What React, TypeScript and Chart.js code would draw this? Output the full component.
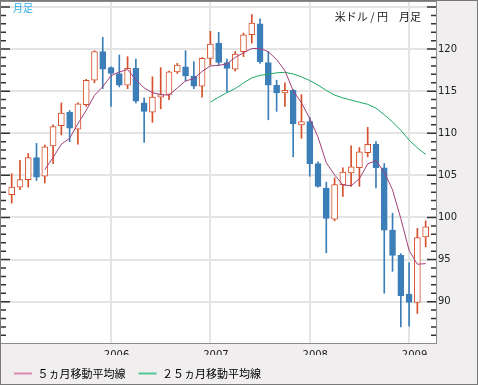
import React, { useEffect, useRef } from 'react';
import { Chart, registerables } from 'chart.js';

Chart.register(...registerables);

// Monthly USD/JPY candles, Jan 2005 (index 0) .. Mar 2009 (index 50)
const opens = [
  102.7, 103.6, 104.5, 107.1, 104.9, 108.5, 110.9, 112.5, 110.5, 113.4, 116.3, 119.7,
  117.8, 117.1, 115.7, 117.7, 113.6, 112.5, 114.3, 114.6, 117.3, 117.9, 116.8, 115.6,
  118.9, 120.7, 118.4, 117.6, 119.7, 121.7, 123.0, 118.4, 115.7, 114.8, 115.1, 111.0,
  111.4, 106.4, 103.5, 99.8, 103.9, 105.3, 105.9, 107.7, 108.7, 105.9, 98.5, 95.5,
  90.9, 89.9, 97.7,
];
const highs = [
  105.2, 106.8, 107.6, 108.8, 108.6, 111.0, 113.6, 112.7, 113.6, 116.4, 119.8, 121.4,
  117.9, 119.3, 119.1, 118.8, 114.2, 116.7, 117.8, 117.4, 118.3, 119.8, 118.5, 119.0,
  122.1, 122.0, 118.8, 119.7, 121.9, 124.1, 123.6, 119.7, 116.3, 116.0, 115.2, 114.6,
  111.9, 106.6, 104.2, 104.7, 105.9, 108.5, 108.3, 110.7, 109.0, 106.4, 100.5, 95.7,
  94.6, 98.7, 99.6,
];
const lows = [
  101.7, 103.3, 103.6, 104.4, 104.1, 106.4, 109.8, 109.0, 108.7, 113.2, 116.0, 115.3,
  113.2, 115.5, 115.3, 113.6, 108.9, 111.3, 112.9, 114.0, 117.1, 116.2, 115.3, 114.3,
  118.1, 118.1, 114.9, 117.4, 119.1, 120.7, 118.3, 111.6, 112.6, 113.2, 107.2, 109.4,
  104.9, 103.6, 95.8, 99.6, 102.5, 103.7, 103.7, 107.2, 103.5, 91.0, 93.6, 87.0,
  87.1, 88.6, 96.5,
];
const closes = [
  103.6, 104.5, 107.1, 104.8, 108.4, 110.8, 112.4, 110.6, 113.5, 116.3, 119.7, 117.6,
  117.1, 115.7, 117.7, 113.8, 112.6, 114.3, 114.6, 117.3, 118.1, 116.8, 115.6, 118.9,
  120.6, 118.4, 117.7, 119.4, 121.7, 123.1, 118.5, 115.7, 114.8, 115.1, 111.1, 111.4,
  106.4, 103.7, 99.9, 103.9, 105.4, 106.0, 107.8, 108.7, 105.9, 98.5, 95.5, 90.7,
  89.9, 97.6, 98.9,
];

// 5-month moving average, from index 4
const ma5Start = 4;
const ma5 = [
  105.68, 107.12, 108.70, 109.40, 111.14, 112.72, 114.50, 115.54, 116.84, 117.28,
  117.56, 116.38, 115.38, 114.82, 114.60, 114.52, 115.38, 116.22, 116.48, 117.34,
  118.00, 118.06, 118.24, 119.00, 119.56, 120.06, 120.08, 119.68, 118.76, 117.44,
  115.04, 113.62, 111.76, 109.54, 106.50, 105.06, 103.86, 103.78, 104.60, 106.36,
  106.76, 105.38, 103.28, 99.86, 96.10, 94.44, 94.52,
];
// 25-month moving average, from index 24
const ma25Start = 24;
const ma25 = [
  113.70, 114.29, 114.82, 115.31, 115.98, 116.57, 116.88, 117.01, 117.18, 117.24,
  117.04, 116.70, 116.26, 115.72, 115.09, 114.54, 114.20, 113.94, 113.68, 113.44,
  112.98, 112.20, 111.35, 110.35, 109.19, 108.27, 107.49,
];

const yearTicks = [12, 24, 36, 48];
const yearLabels = ['2006', '2007', '2008', '2009'];
const yGridValues = [90, 95, 100, 105, 110, 115, 120, 125];
const yLabelValues = [90, 95, 100, 105, 110, 115, 120];

const seriesNames = ['５ヵ月移動平均線', '２５ヵ月移動平均線'];
const cornerLabel = '月足';
const titleLabel = '米ドル / 円　月足';

const UP = '#d6502c';
const DOWN = '#3c7eb8';
const MA5_COLOR = '#a4407a';
const MA25_COLOR = '#1ea863';
const MA5_LEGEND = '#d888b4';
const MA25_LEGEND = '#52c896';

const decorPlugin = {
  id: 'decor',
  beforeDraw(chart: any) {
    const { ctx, chartArea: a, width, height } = chart;
    ctx.save();
    ctx.fillStyle = '#f0eeee';
    ctx.fillRect(0, 0, width, height);
    ctx.fillStyle = '#ffffff';
    ctx.fillRect(a.left, a.top, a.right - a.left, a.bottom - a.top);
    ctx.restore();
  },
  afterDraw(chart: any) {
    const { ctx, chartArea: a, width, height } = chart;
    const ys = chart.scales.y;
    ctx.save();
    ctx.strokeStyle = '#333333';
    ctx.lineWidth = 1.5;
    for (let v = Math.ceil(ys.min); v <= Math.floor(ys.max); v++) {
      const y = ys.getPixelForValue(v);
      const major = v % 5 === 0;
      ctx.beginPath();
      ctx.moveTo(a.left, y);
      ctx.lineTo(a.left + (major ? 9 : 5), y);
      ctx.moveTo(a.right, y);
      ctx.lineTo(a.right - (major ? 9 : 5), y);
      ctx.stroke();
    }
    ctx.lineWidth = 1;
    ctx.strokeStyle = '#8c8c8c';
    ctx.strokeRect(a.left - 0.5, a.top - 0.5, a.right - a.left + 1, a.bottom - a.top + 1);
    ctx.strokeStyle = '#787878';
    ctx.strokeRect(0.5, 0.5, width - 1, height - 1);

    ctx.textBaseline = 'middle';
    ctx.font = '10px "Noto Sans CJK JP", sans-serif';
    ctx.fillStyle = '#2aaee6';
    ctx.textAlign = 'left';
    ctx.fillText(cornerLabel, a.left + 12, 8.5);
    ctx.font = '11px "Noto Sans CJK JP", sans-serif';
    ctx.fillStyle = '#222222';
    ctx.textAlign = 'right';
    ctx.fillText(titleLabel, 421, 17);
    ctx.restore();
  },
};

export default function App() {
  const ref = useRef<HTMLCanvasElement>(null);

  useEffect(() => {
    document.body.style.margin = '0';
    const ups = closes.map((c, i) => c >= opens[i]);
    const bodyData = opens.map((o, i) => ({ x: i, y: [o, closes[i]] }));
    const wickData = lows.map((l, i) => ({ x: i, y: [l, highs[i]] }));
    const ma5Data = ma5.map((v, k) => ({ x: k + ma5Start, y: v }));
    const ma25Data = ma25.map((v, k) => ({ x: k + ma25Start, y: v }));
    const tickFont = { family: '"DejaVu Sans", sans-serif', size: 10 };

    const chart = new Chart(ref.current as HTMLCanvasElement, {
      type: 'bar',
      data: {
        datasets: [
          {
            type: 'line',
            label: seriesNames[0],
            data: ma5Data,
            borderColor: MA5_COLOR,
            borderWidth: 1,
            pointRadius: 0,
            tension: 0,
            order: 0,
          } as any,
          {
            type: 'line',
            label: seriesNames[1],
            data: ma25Data,
            borderColor: MA25_COLOR,
            borderWidth: 1,
            pointRadius: 0,
            tension: 0,
            order: 0,
          } as any,
          {
            type: 'bar',
            label: 'body',
            data: bodyData,
            backgroundColor: ups.map((u) => (u ? '#ffffff' : DOWN)),
            borderColor: ups.map((u) => (u ? UP : DOWN)),
            borderWidth: 1,
            borderSkipped: false,
            barThickness: 6,
            grouped: false,
            order: 1,
          } as any,
          {
            type: 'bar',
            label: 'wick',
            data: wickData,
            backgroundColor: ups.map((u) => (u ? UP : DOWN)),
            borderWidth: 0,
            barThickness: 1,
            grouped: false,
            order: 2,
          } as any,
        ],
      },
      options: {
        responsive: false,
        animation: false,
        devicePixelRatio: 1,
        events: [],
        layout: { padding: { left: 1, top: 2, right: 0, bottom: 0 } },
        scales: {
          x: {
            type: 'linear',
            min: -1.29,
            max: 51.25,
            offset: false,
            grid: { color: '#e4e4e4', lineWidth: 2, drawTicks: false, offset: false },
            border: { display: false },
            ticks: {
              padding: 6,
              labelOffset: 5.5,
              autoSkip: false,
              maxRotation: 0,
              font: tickFont,
              color: '#222222',
              callback: (v: any) => {
                const k = yearTicks.indexOf(Number(v));
                return k >= 0 ? yearLabels[k] : '';
              },
            },
            afterBuildTicks: (s: any) => {
              s.ticks = yearTicks.map((v) => ({ value: v }));
            },
            afterFit: (s: any) => {
              s.height = 12;
              s.paddingLeft = 0;
              s.paddingRight = 0;
            },
          } as any,
          y: {
            type: 'linear',
            position: 'right',
            min: 85.09,
            max: 125.59,
            grid: { color: '#e4e4e4', lineWidth: 2, drawTicks: false },
            border: { display: false },
            ticks: {
              padding: 2,
              font: tickFont,
              color: '#222222',
              callback: (v: any) => (yLabelValues.includes(Number(v)) ? String(v) : ''),
            },
            afterBuildTicks: (s: any) => {
              s.ticks = yGridValues.map((v) => ({ value: v }));
            },
            afterFit: (s: any) => {
              s.width = 42;
              s.paddingTop = 0;
              s.paddingBottom = 0;
            },
          } as any,
        },
        plugins: {
          tooltip: { enabled: false },
          legend: {
            position: 'bottom',
            align: 'start',
            maxHeight: 30,
            labels: {
              boxWidth: 18,
              boxHeight: 2,
              padding: 13,
              color: '#222222',
              font: { family: '"Noto Sans CJK JP", sans-serif', size: 11 },
              generateLabels: () => [
                { text: seriesNames[0], fillStyle: MA5_LEGEND, strokeStyle: MA5_LEGEND, lineWidth: 0, hidden: false, datasetIndex: 0 },
                { text: seriesNames[1], fillStyle: MA25_LEGEND, strokeStyle: MA25_LEGEND, lineWidth: 0, hidden: false, datasetIndex: 1 },
              ],
            },
          } as any,
        },
      },
      plugins: [decorPlugin],
    });
    return () => chart.destroy();
  }, []);

  return (
    <div style={{ position: 'absolute', left: 0, top: 0, width: 478, height: 385 }}>
      <canvas ref={ref} width={478} height={385} style={{ display: 'block', width: 478, height: 385 }} />
    </div>
  );
}
